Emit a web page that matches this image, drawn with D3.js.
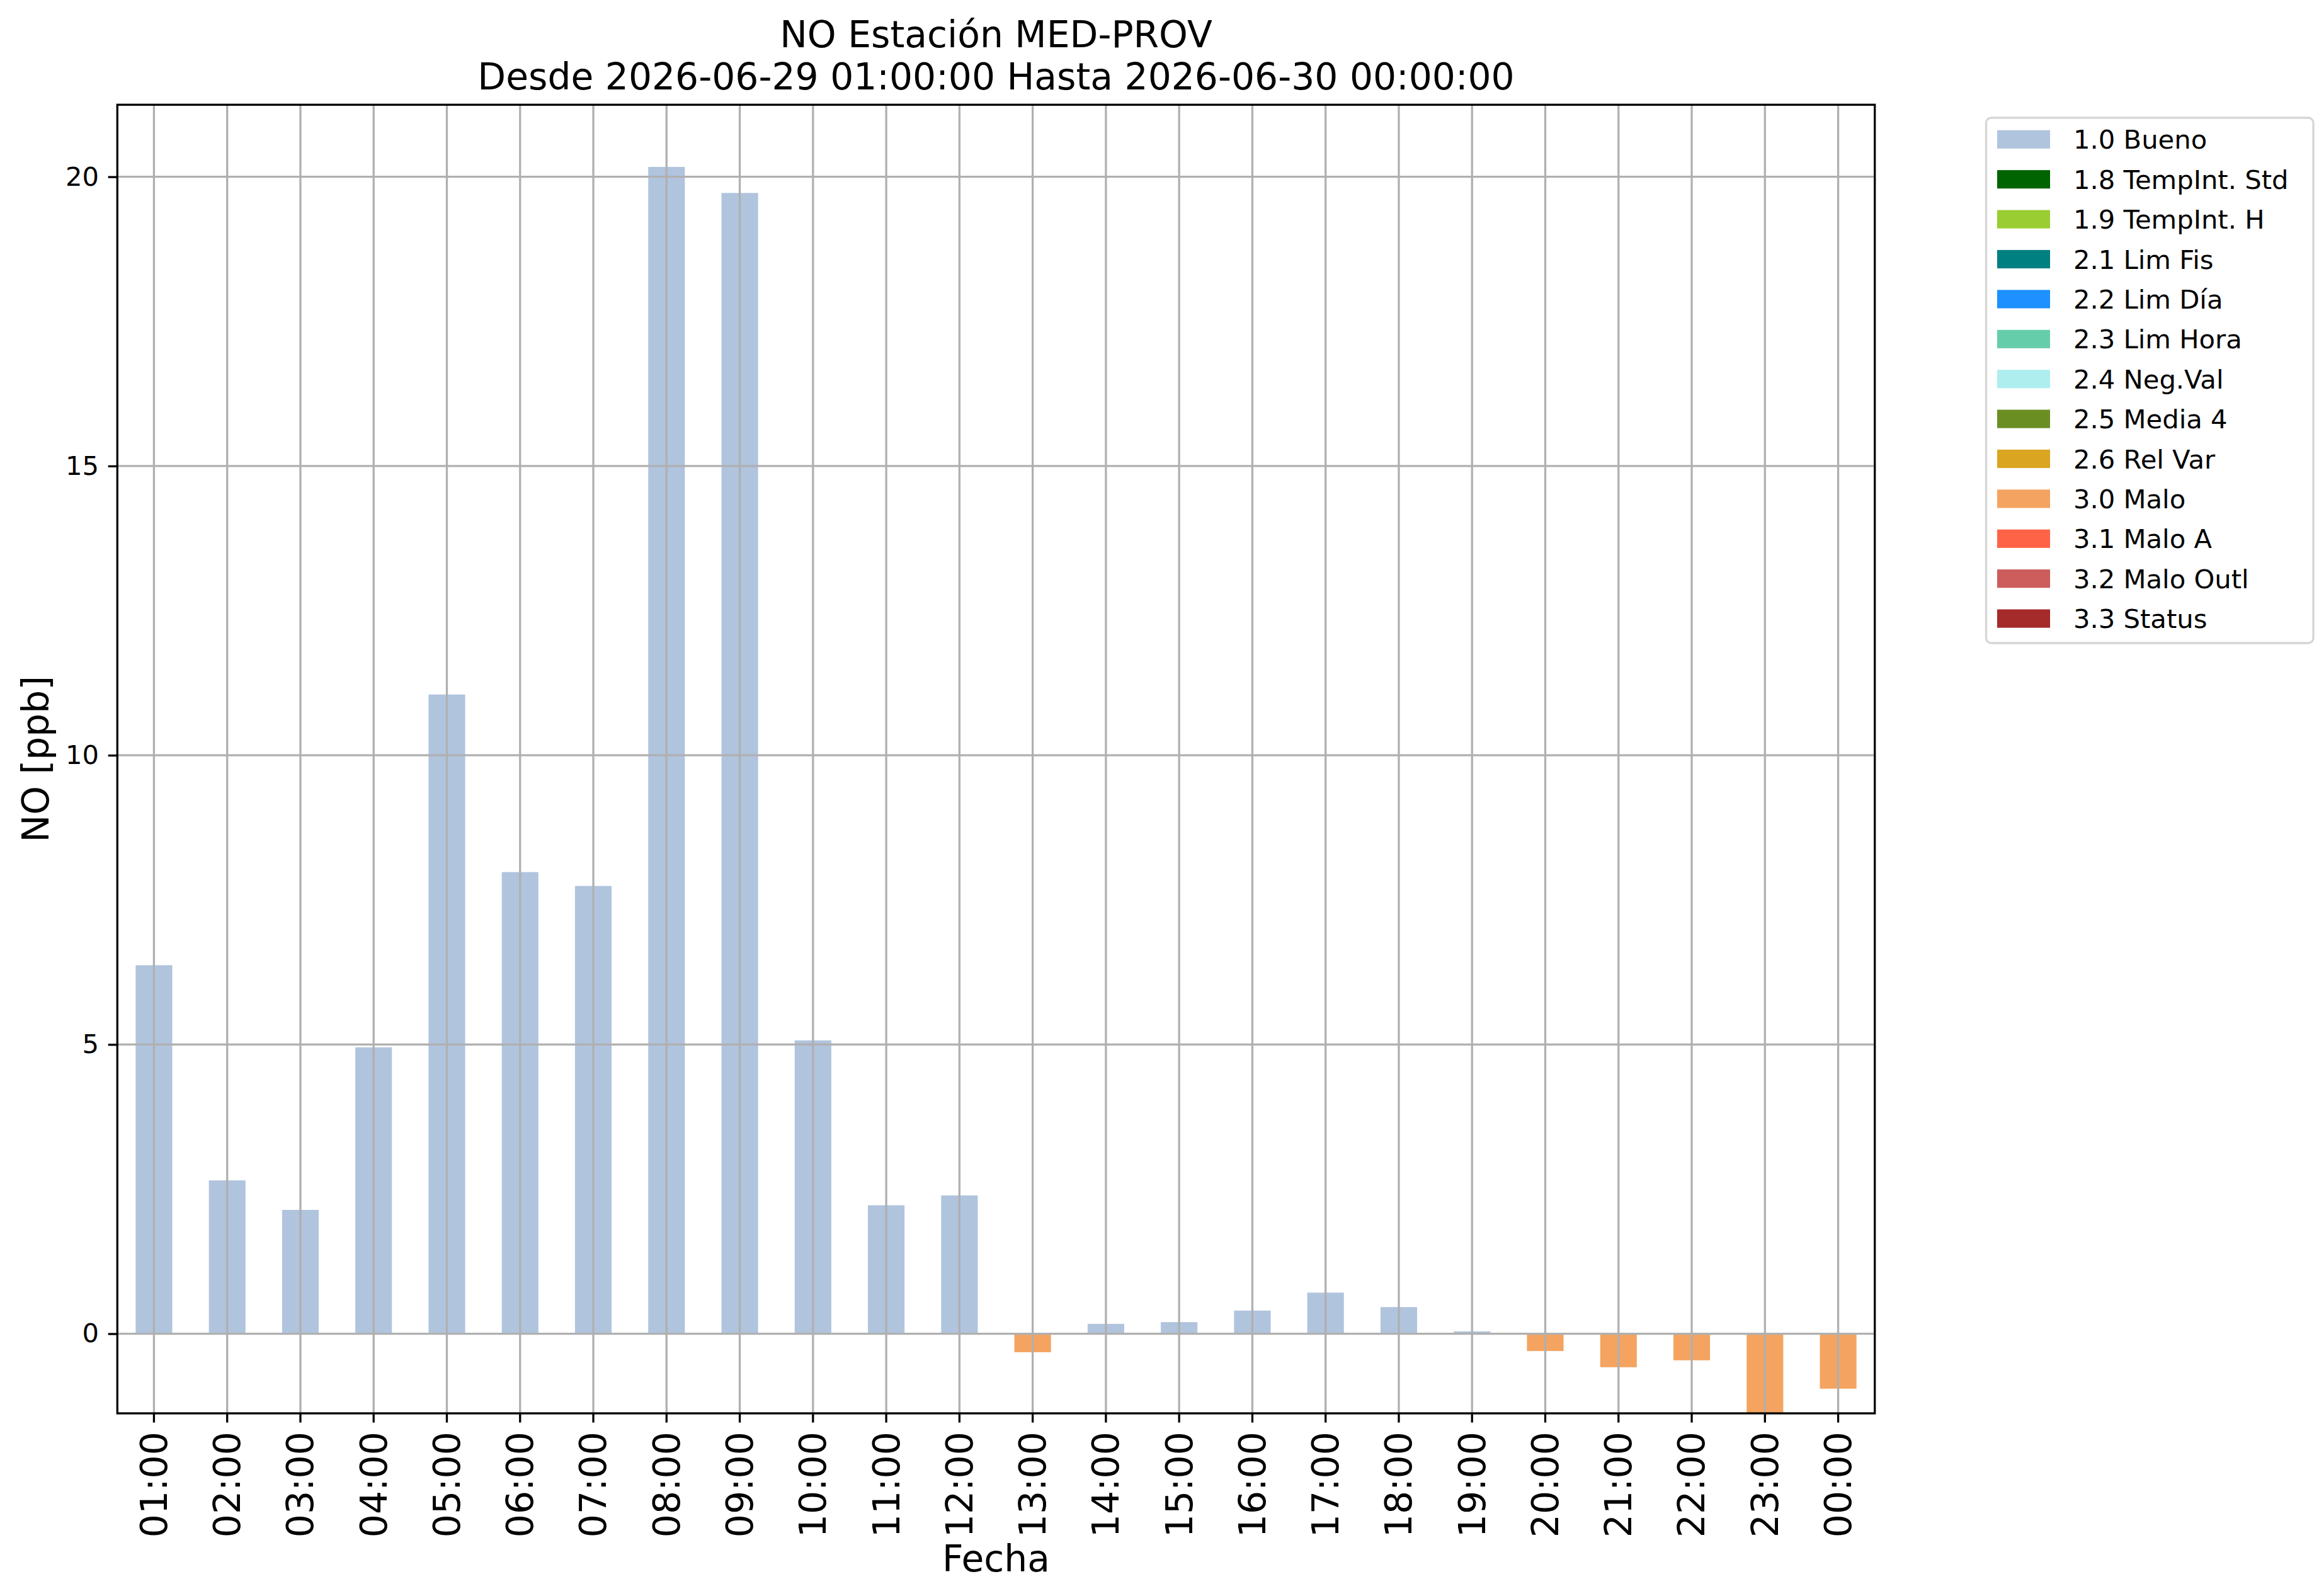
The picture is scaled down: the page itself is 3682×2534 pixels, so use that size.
<!DOCTYPE html>
<html>
<head>
<meta charset="utf-8">
<script src="https://cdn.jsdelivr.net/npm/d3@7"></script>
<style>
  body { margin: 0; background: #fff; }
  text { font-family: "DejaVu Sans", sans-serif; }
</style>
</head>
<body>
<div id="chart"></div>
<script>
// hourly NO values, one per hour
var hours = ["01:00","02:00","03:00","04:00","05:00","06:00","07:00","08:00",
             "09:00","10:00","11:00","12:00","13:00","14:00","15:00","16:00",
             "17:00","18:00","19:00","20:00","21:00","22:00","23:00","00:00"];
var values = [6.37, 2.65, 2.14, 4.95, 11.05, 7.98, 7.74, 20.17,
              19.72, 5.07, 2.22, 2.39, -0.32, 0.17, 0.20, 0.40,
              0.71, 0.46, 0.04, -0.30, -0.58, -0.46, -1.45, -0.95];
var flags = ["1.0","1.0","1.0","1.0","1.0","1.0","1.0","1.0",
             "1.0","1.0","1.0","1.0","3.0","1.0","1.0","1.0",
             "1.0","1.0","1.0","3.0","3.0","3.0","3.0","3.0"];

// legend entries (flag code, name, colour)
var flagCodes = ["1.0","1.8","1.9","2.1","2.2","2.3","2.4","2.5","2.6","3.0","3.1","3.2","3.3"];
var flagNames = ["Bueno","TempInt. Std","TempInt. H","Lim Fis","Lim Día","Lim Hora",
                 "Neg.Val","Media 4","Rel Var","Malo","Malo A","Malo Outl","Status"];
var flagColors = ["#b0c4de","#006400","#9acd32","#008080","#1e90ff","#66cdaa",
                  "#afeeee","#6b8e23","#daa520","#f4a460","#ff6347","#cd5c5c","#a52a2a"];

var yTicks = [0, 5, 10, 15, 20];
var yDomain = [-1.377, 21.245];

var title1 = "NO Estación MED-PROV",
    title2 = "Desde 2026-06-29 01:00:00 Hasta 2026-06-30 00:00:00",
    yLabel = "NO [ppb]",
    xLabel = "Fecha";

var W = 3682, H = 2534,
    margin = {top: 166.3, left: 186.3, right: W - 2976.7, bottom: H - 2244},
    width = W - margin.left - margin.right,
    height = H - margin.top - margin.bottom,
    small = 41.7,  // 10pt at 300dpi
    big = 58.3,    // 14pt
    tickLen = 14.6,
    lw = 3.3,
    gridColor = "#b0b0b0";

var colorOf = d3.scaleOrdinal().domain(flagCodes).range(flagColors);

var x = d3.scaleBand().domain(hours).range([0, width])
    .paddingInner(0.5).paddingOuter(0.25);
var y = d3.scaleLinear().domain(yDomain).range([height, 0]);

var svg = d3.select("#chart").append("svg")
    .attr("width", W)
    .attr("height", H);

svg.append("rect").attr("width", W).attr("height", H).attr("fill", "#fff");

var g = svg.append("g")
    .attr("transform", "translate(" + margin.left + "," + margin.top + ")");

g.append("clipPath").attr("id", "plotclip")
    .append("rect").attr("width", width).attr("height", height);

// bars
var data = hours.map(function(h, i){ return {hour: h, value: values[i], flag: flags[i]}; });
g.append("g").attr("clip-path", "url(#plotclip)")
    .selectAll("rect")
    .data(data)
    .enter().append("rect")
    .attr("x", function(d){ return x(d.hour); })
    .attr("width", x.bandwidth())
    .attr("y", function(d){ return y(Math.max(0, d.value)); })
    .attr("height", function(d){ return Math.abs(y(d.value) - y(0)); })
    .attr("fill", function(d){ return colorOf(d.flag); });

// grid on top of the bars
var grid = g.append("g").attr("class", "grid");
grid.selectAll("line.gx")
    .data(hours)
    .enter().append("line")
    .attr("class", "gx")
    .attr("x1", function(d){ return x(d) + x.bandwidth() / 2; })
    .attr("x2", function(d){ return x(d) + x.bandwidth() / 2; })
    .attr("y1", 0).attr("y2", height)
    .attr("stroke", gridColor).attr("stroke-width", lw);
grid.selectAll("line.gy")
    .data(yTicks)
    .enter().append("line")
    .attr("class", "gy")
    .attr("x1", 0).attr("x2", width)
    .attr("y1", function(d){ return y(d); })
    .attr("y2", function(d){ return y(d); })
    .attr("stroke", gridColor).attr("stroke-width", lw);

// axes
var xAxis = d3.axisBottom(x).tickSizeInner(tickLen).tickSizeOuter(0).tickPadding(tickLen);
var yAxis = d3.axisLeft(y).tickValues(yTicks).tickFormat(d3.format("d"))
    .tickSizeInner(tickLen).tickSizeOuter(0).tickPadding(tickLen);

var gx = g.append("g")
    .attr("transform", "translate(0," + height + ")")
    .call(xAxis);
gx.select(".domain").remove();
gx.selectAll(".tick line").attr("stroke", "#000").attr("stroke-width", lw);
gx.selectAll("text")
    .attr("font-size", big)
    .attr("fill", "#000")
    .attr("transform", "rotate(-90)")
    .attr("x", -(tickLen * 2))
    .attr("y", 0)
    .attr("dy", "0.35em")
    .style("text-anchor", "end");

var gy = g.append("g").call(yAxis);
gy.select(".domain").remove();
gy.selectAll(".tick line").attr("stroke", "#000").attr("stroke-width", lw);
gy.selectAll("text").attr("font-size", small).attr("fill", "#000");

// frame
g.append("rect")
    .attr("width", width).attr("height", height)
    .attr("fill", "none").attr("stroke", "#000").attr("stroke-width", lw);

// titles and labels
var cx = margin.left + width / 2;
svg.append("text").attr("x", cx).attr("y", 75)
    .attr("text-anchor", "middle").attr("font-size", big).text(title1);
svg.append("text").attr("x", cx).attr("y", 141.7)
    .attr("text-anchor", "middle").attr("font-size", big).text(title2);
svg.append("text")
    .attr("transform", "translate(" + 57 + "," + (margin.top + height / 2) + ") rotate(-90)")
    .attr("text-anchor", "middle").attr("dy", "0.35em")
    .attr("font-size", big).text(yLabel);
svg.append("text").attr("x", cx).attr("y", 2495)
    .attr("text-anchor", "middle").attr("font-size", big).text(xLabel);

// legend
var legend = svg.append("g").attr("transform", "translate(3153.5,187)");
legend.append("rect")
    .attr("width", 3673 - 3153.5).attr("height", 1021 - 187)
    .attr("rx", 8).attr("ry", 8)
    .attr("fill", "#fff").attr("stroke", "#d6d6d6").attr("stroke-width", lw);
var item = legend.selectAll("g.item")
    .data(flagCodes)
    .enter().append("g")
    .attr("class", "item")
    .attr("transform", function(d, i){ return "translate(0," + (34.3 + i * 63.4) + ")"; });
item.append("rect")
    .attr("x", 17.5).attr("y", -14.6)
    .attr("width", 84).attr("height", 29.2)
    .attr("fill", function(d){ return colorOf(d); });
item.append("text")
    .attr("x", 138.5).attr("dy", "0.36em")
    .attr("font-size", small)
    .text(function(d, i){ return d + " " + flagNames[i]; });
</script>
</body>
</html>
